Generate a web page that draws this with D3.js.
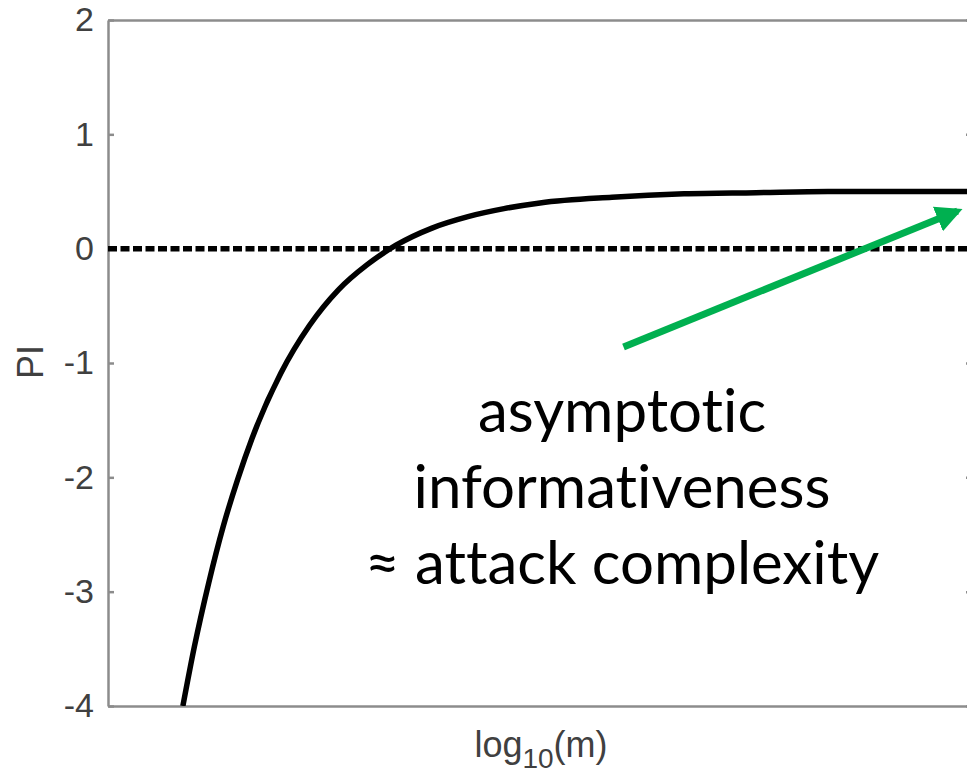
<!DOCTYPE html>
<head>
  <meta charset="utf-8">
  <script src="https://unpkg.com/d3@7/dist/d3.min.js"></script>
  <style>
    body {
      margin:0;
      background:#fff;
    }
    text {
      font-family:"Liberation Sans", Arial, sans-serif;
    }
  </style>
</head>

<body>
  <svg width="967" height="775"></svg>
  <script>
    // values
    var logm = [0.52, 0.6, 0.7, 0.8, 0.9, 1.0, 1.2, 1.4, 1.6, 1.8, 2.0, 2.25, 2.5, 2.75, 3.0, 3.5, 4.0, 4.5, 5.0, 5.5, 6.0];
    var pi = [-4.00, -3.48, -2.92, -2.43, -2.02, -1.66, -1.09, -0.67, -0.36, -0.14, 0.03, 0.18, 0.28, 0.35, 0.40, 0.45, 0.48, 0.49, 0.50, 0.50, 0.50];
    var yTicks = [-4, -3, -2, -1, 0, 1, 2];
    var noteLines = ["asymptotic", "informativeness", "\u2248 attack complexity"];
    var arrowFrom = [3.58, -0.86];
    var arrowTo = [5.9, 0.33];

    var svg = d3.select("svg"),
        plotLeft = 108, plotRight = 972, plotTop = 20, plotBottom = 706;

    var x = d3.scaleLinear().domain([0, 6]).range([plotLeft, plotRight]);
    var y = d3.scaleLinear().domain([-4, 2]).range([plotBottom, plotTop]);

    var defs = svg.append("defs");
    defs.append("clipPath").attr("id", "clip")
      .append("rect")
        .attr("x", plotLeft).attr("y", plotTop)
        .attr("width", plotRight - plotLeft).attr("height", plotBottom - plotTop);

    defs.append("marker")
        .attr("id", "head")
        .attr("viewBox", "0 0 10 10")
        .attr("refX", 8).attr("refY", 5)
        .attr("markerWidth", 3.8).attr("markerHeight", 3.8)
        .attr("markerUnits", "strokeWidth")
        .attr("orient", "auto")
      .append("path")
        .attr("d", "M0,0 L10,5 L0,10 Z")
        .attr("fill", "#00b050");

    // box and ticks
    var gy = svg.append("g")
      .attr("transform", "translate(" + plotLeft + ",0)")
      .call(d3.axisLeft(y).tickValues(yTicks).tickSizeInner(-6).tickSizeOuter(0).tickPadding(14)
        .tickFormat(function (d) { return String(d); }));
    svg.append("g")
      .attr("transform", "translate(" + plotRight + ",0)")
      .call(d3.axisRight(y).tickValues(yTicks).tickSizeInner(-6).tickSizeOuter(0).tickFormat(""));
    svg.append("g")
      .attr("transform", "translate(0," + plotBottom + ")")
      .call(d3.axisBottom(x).tickValues([]).tickSizeOuter(0));
    svg.append("g")
      .attr("transform", "translate(0," + plotTop + ")")
      .call(d3.axisTop(x).tickValues([]).tickSizeOuter(0));

    svg.selectAll(".domain, .tick line")
      .attr("stroke", "#8c8c8c")
      .attr("stroke-width", 2.5);
    gy.selectAll(".tick text")
      .attr("font-size", 34)
      .attr("fill", "#404040");

    // zero line
    svg.append("line")
      .attr("x1", x(0)).attr("x2", x(6))
      .attr("y1", y(0)).attr("y2", y(0))
      .attr("stroke", "#000")
      .attr("stroke-width", 5.5)
      .attr("stroke-dasharray", "9,3.5");

    // PI curve
    var line = d3.line()
      .x(function (d, i) { return x(logm[i]); })
      .y(function (d) { return y(d); })
      .curve(d3.curveMonotoneX);

    svg.append("path")
      .datum(pi)
      .attr("clip-path", "url(#clip)")
      .attr("d", line)
      .attr("fill", "none")
      .attr("stroke", "#000")
      .attr("stroke-width", 5.5);

    // axis labels
    var xl = svg.append("text")
      .attr("x", 541).attr("y", 757)
      .attr("text-anchor", "middle")
      .attr("font-size", 36)
      .attr("fill", "#404040");
    xl.append("tspan").text("log");
    xl.append("tspan").attr("dy", 11).attr("font-size", 28).text("10");
    xl.append("tspan").attr("dy", -11).text("(m)");

    svg.append("text")
      .attr("transform", "translate(43,362) rotate(-90)")
      .attr("text-anchor", "middle")
      .attr("font-size", 36)
      .attr("fill", "#404040")
      .text("PI");

    // annotation
    svg.append("line")
      .attr("x1", x(arrowFrom[0])).attr("y1", y(arrowFrom[1]))
      .attr("x2", x(arrowTo[0])).attr("y2", y(arrowTo[1]))
      .attr("stroke", "#00b050")
      .attr("stroke-width", 7)
      .attr("marker-end", "url(#head)");

    svg.selectAll(".note")
      .data(noteLines)
      .enter().append("text")
        .attr("class", "note")
        .attr("x", 622)
        .attr("y", function (d, i) { return 432 + i * 76; })
        .attr("text-anchor", "middle")
        .attr("font-size", 60)
        .style("font-family", "Lato, 'Open Sans', sans-serif")
        .style("font-variant-ligatures", "none")
        .attr("fill", "#000")
        .text(function (d) { return d; });
  </script>
</body>
